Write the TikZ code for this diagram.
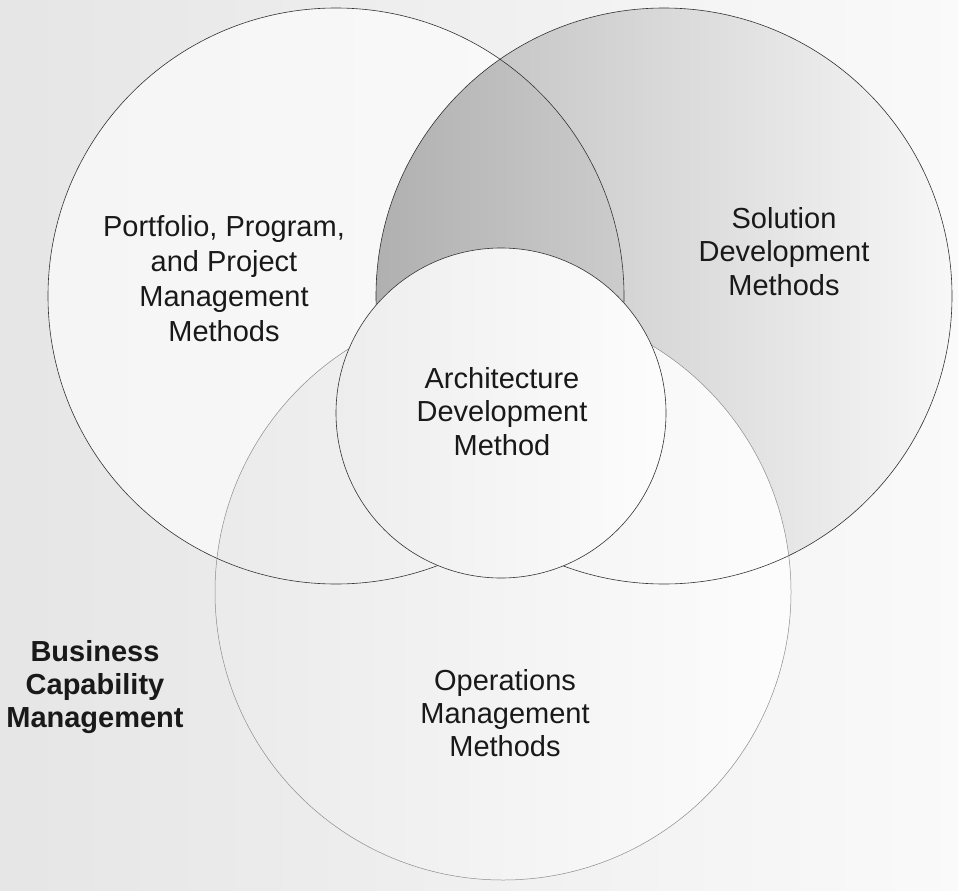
\documentclass[tikz,border=0pt]{standalone}
\usepackage{fontspec}
\setmainfont{Liberation Sans}
\begin{document}
\begin{tikzpicture}[x=1pt,y=-1pt,
  ring/.style={draw=black!80, line width=0.6pt},
  faintring/.style={draw=black!45, line width=0.5pt},
  lbl/.style={align=center, anchor=base, inner sep=0pt, text=black!90},
  lblfont/.style={font=\fontsize{29}{#1}\selectfont},
  boldfont/.style={font=\fontsize{29}{#1}\selectfont\bfseries}]
\useasboundingbox (0,0) rectangle (958,891);
\shade[left color=black!10, right color=black!2] (0,0) rectangle (958,891);
\coordinate (L) at (336,296);
\coordinate (R) at (664,296);
\coordinate (B) at (503,592);
\coordinate (C) at (501,413);
% right circle fill
\shade[left color=black!27, right color=black!3] (R) circle (288pt);
% left circle fill
\shade[left color=black!4, right color=black!2] (L) circle (288pt);
% lens of left and right circles
\begin{scope}
  \clip (L) circle (288pt);
  \clip (R) circle (288pt);
  \shade[left color=black!31, right color=black!20] (376,0) rectangle (625,891);
\end{scope}
% bottom circle fill
\shade[left color=black!8, right color=black!1] (B) circle (288pt);
% outlines
\draw[ring] (L) circle (288pt);
\draw[ring] (R) circle (288pt);
\draw[faintring] (B) circle (288pt);
% centre circle
\shade[left color=black!7, right color=black!1, draw=black!80, line width=0.6pt] (C) circle (165pt);
% labels (anchored at the baseline of the last line)
\node[lbl, lblfont=35] (ppm) at (224,341) {Portfolio, Program,\\and Project\\Management\\Methods};
\node[lbl, lblfont=33.5] (sdm) at (784,295) {Solution\\Development\\Methods};
\node[lbl, lblfont=33.5] (adm) at (502,455) {Architecture\\Development\\Method};
\node[lbl, lblfont=33] (omm) at (505,756) {Operations\\Management\\Methods};
\node[lbl, boldfont=33] (bcm) at (95,727) {Business\\Capability\\Management};
\end{tikzpicture}
\end{document}
